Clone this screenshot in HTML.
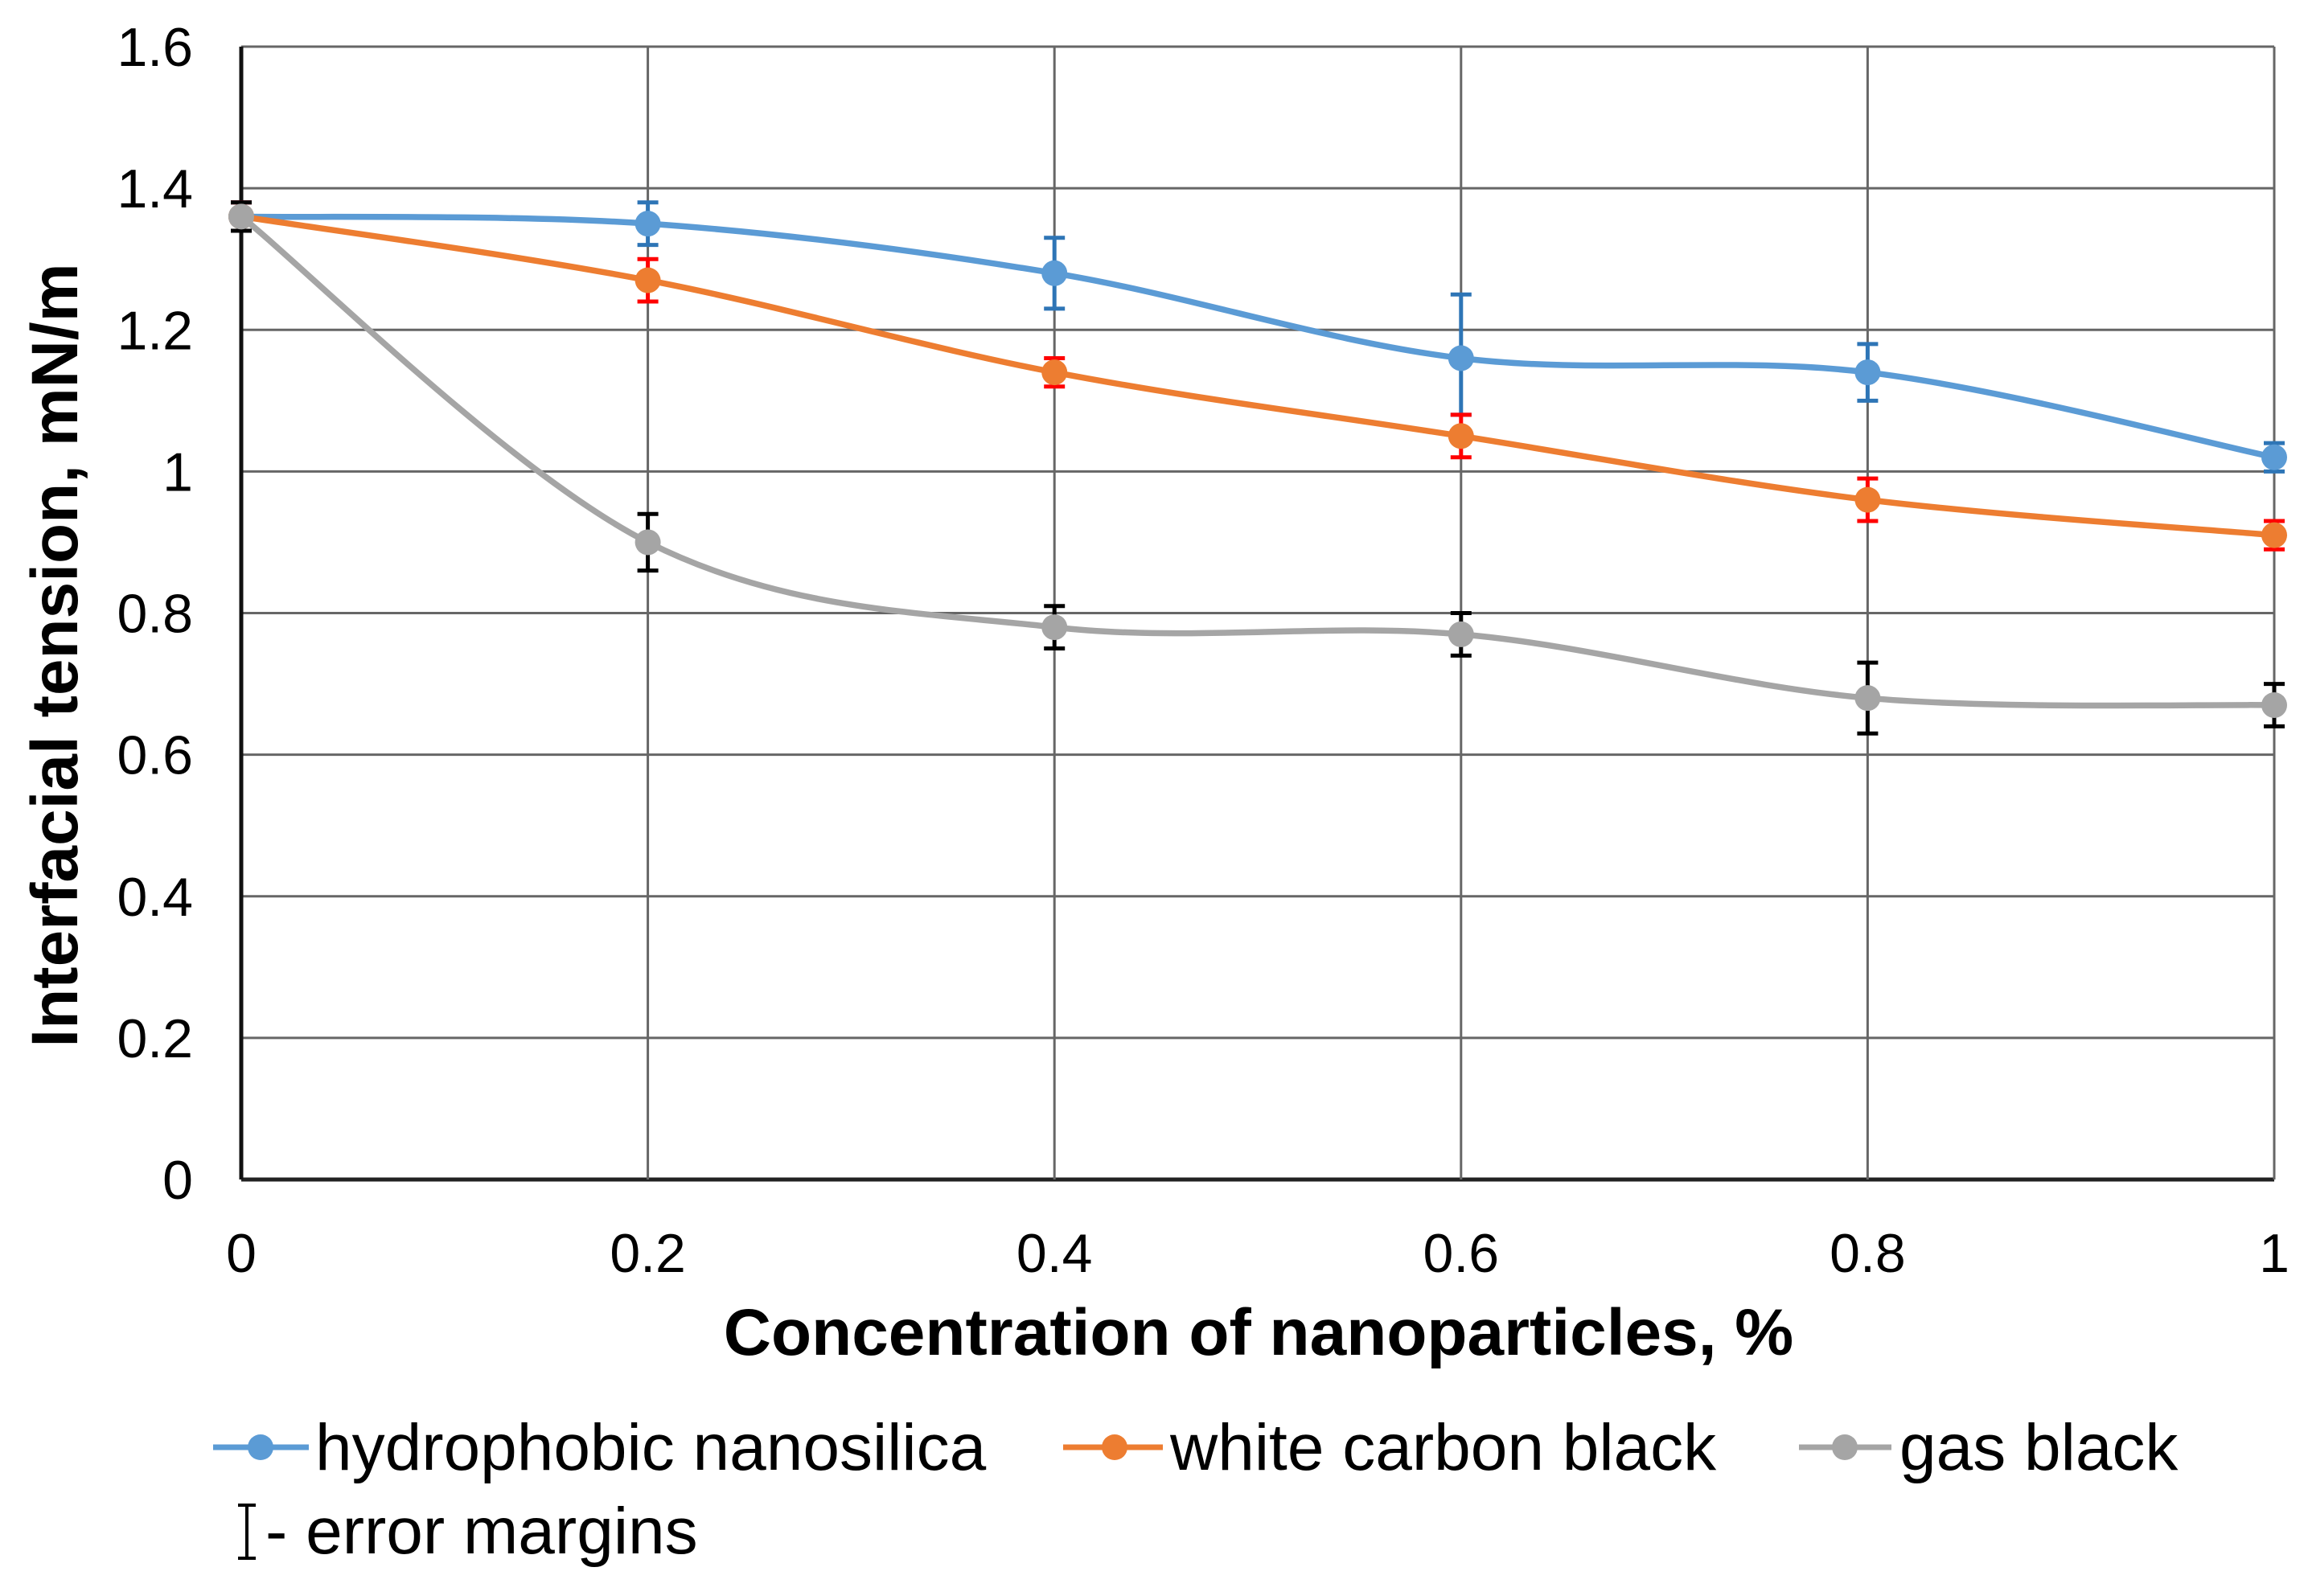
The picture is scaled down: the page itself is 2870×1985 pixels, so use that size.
<!DOCTYPE html>
<html><head><meta charset="utf-8"><style>
html,body{margin:0;padding:0;background:#fff;}
svg{display:block;font-family:"Liberation Sans",Arial,sans-serif;}
</style></head><body>
<svg id="chart" width="2870" height="1985" viewBox="0 0 2870 1985" xmlns="http://www.w3.org/2000/svg">
<g id="grid"></g>
<g id="series"></g>
<g id="ticks"></g>
<text x="1565" y="1685" font-size="82" font-weight="bold" text-anchor="middle">Concentration of nanoparticles, %</text>
<text transform="translate(96,815) rotate(-90)" font-size="82" font-weight="bold" text-anchor="middle">Interfacial tension, mN/m</text>
<g font-size="82">
 <g>
  <line x1="265" y1="1800" x2="384" y2="1800" stroke="#5B9BD5" stroke-width="7"/><circle cx="324" cy="1800" r="16" fill="#5B9BD5"/>
  <text x="392" y="1828">hydrophobic nanosilica</text></g>
 <g>
  <line x1="1322" y1="1800" x2="1446" y2="1800" stroke="#ED7D31" stroke-width="7"/><circle cx="1386" cy="1800" r="16" fill="#ED7D31"/>
  <text x="1455" y="1828">white carbon black</text></g>
 <g>
  <line x1="2237" y1="1800" x2="2352" y2="1800" stroke="#A5A5A5" stroke-width="7"/><circle cx="2294" cy="1800" r="16" fill="#A5A5A5"/>
  <text x="2362" y="1828">gas black</text></g>
 <g>
  <line x1="307" y1="1872" x2="307" y2="1938" stroke="#000" stroke-width="4"/>
  <line x1="296" y1="1872" x2="318" y2="1872" stroke="#000" stroke-width="4"/>
  <line x1="296" y1="1938" x2="318" y2="1938" stroke="#000" stroke-width="4"/>
  <text x="330" y="1932">- error margins</text></g>
</g>
</svg>
<script>
const xCats = [0, 0.2, 0.4, 0.6, 0.8, 1];
const xTickLabels = ["0","0.2","0.4","0.6","0.8","1"];
const yTicks = [0,0.2,0.4,0.6,0.8,1,1.2,1.4,1.6];
const yTickLabels = ["0","0.2","0.4","0.6","0.8","1","1.2","1.4","1.6"];
const silicaVals = [1.36,1.35,1.28,1.16,1.14,1.02];
const silicaHi = [0.02,0.03,0.05,0.09,0.04,0.02];
const silicaLo = [0.02,0.03,0.05,0.08,0.04,0.02];
const whiteVals = [1.36,1.27,1.14,1.05,0.96,0.91];
const whiteErr = [0.02,0.03,0.02,0.03,0.03,0.02];
const gasVals = [1.36,0.90,0.78,0.77,0.68,0.67];
const gasErr = [0.02,0.04,0.03,0.03,0.05,0.03];

const X0=300,X1=2828,Y0=1467,Y1=58;
const xs=v=>X0+(v-0)/(1-0)*(X1-X0);
const ys=v=>Y0-(v/1.6)*(Y0-Y1);
const NS="http://www.w3.org/2000/svg";
function mk(tag,attrs,parent){const e=document.createElementNS(NS,tag);for(const k in attrs)e.setAttribute(k,attrs[k]);parent.appendChild(e);return e;}
const grid=document.getElementById('grid'),ticks=document.getElementById('ticks'),ser=document.getElementById('series');
yTicks.forEach((t,i)=>{
 const l=mk('line',{x1:X0,x2:X1,y1:ys(t),y2:ys(t),stroke:(t===0?'#222':'#666'),'stroke-width':(t===0?5:3)},grid);
 
 
 const tx=mk('text',{x:240,y:ys(t)+24,'font-size':68,'text-anchor':'end'},ticks);tx.textContent=yTickLabels[i];
 
 
});
xCats.forEach((c,i)=>{
 const l=mk('line',{x1:xs(c),x2:xs(c),y1:Y1,y2:Y0,stroke:(i===0?'#111':'#666'),'stroke-width':(i===0?5:3)},grid);
 
 
 const tx=mk('text',{x:xs(c),y:1582,'font-size':68,'text-anchor':'middle'},ticks);tx.textContent=xTickLabels[i];
 
 
});
function smooth(pts){let d=`M${pts[0][0]},${pts[0][1]}`;for(let i=0;i<pts.length-1;i++){const p0=pts[Math.max(0,i-1)],p1=pts[i],p2=pts[i+1],p3=pts[Math.min(pts.length-1,i+2)];const t=6;d+=` C${p1[0]+(p2[0]-p0[0])/t},${p1[1]+(p2[1]-p0[1])/t} ${p2[0]-(p3[0]-p1[0])/t},${p2[1]-(p3[1]-p1[1])/t} ${p2[0]},${p2[1]}`;}return d;}
function drawSeries(name,vals,hi,lo,color,errColor){
 const g=mk('g',{},ser);
 
 
 const pts=vals.map((v,i)=>[xs(xCats[i]),ys(v)]);
 const p=mk('path',{d:smooth(pts),fill:'none',stroke:color,'stroke-width':7.5},g);
 
 
 vals.forEach((v,i)=>{
  const x=xs(xCats[i]),a=ys(v+hi[i]),b=ys(v-lo[i]);
  const e=mk('path',{d:`M${x},${a}V${b}M${x-13},${a}H${x+13}M${x-13},${b}H${x+13}`,stroke:errColor,'stroke-width':5,fill:'none'},g);
  
  
 });
 vals.forEach((v,i)=>{
  const c=mk('circle',{cx:xs(xCats[i]),cy:ys(v),r:16,fill:color},g);
  
  
 });
}
drawSeries('hydrophobic-nanosilica',silicaVals,silicaHi,silicaLo,'#5B9BD5','#2E75B6');
drawSeries('white-carbon-black',whiteVals,whiteErr,whiteErr,'#ED7D31','#FF0000');
drawSeries('gas-black',gasVals,gasErr,gasErr,'#A5A5A5','#000000');
</script>
</body></html>
